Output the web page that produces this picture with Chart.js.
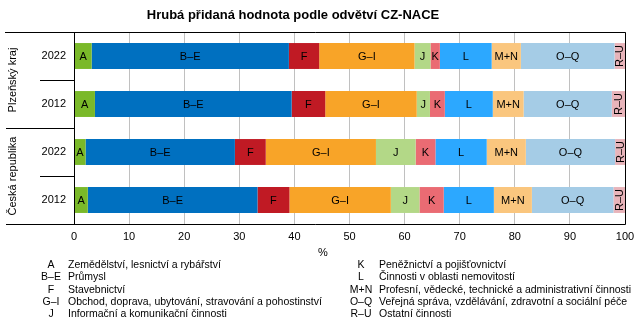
<!DOCTYPE html>
<html lang="cs">
<head>
<meta charset="utf-8">
<script src="https://cdn.jsdelivr.net/npm/chart.js@4"></script>
<style>
  html, body { margin: 0; padding: 0; background: #fff; }
  #wrap { width: 643px; height: 327px; position: relative; }
</style>
</head>
<body>
<div id="wrap"><canvas id="hphChart" width="643" height="327"></canvas></div>
<script>
// ===== Data =====
const radky = ['2022', '2012', '2022', '2012'];
const skupiny = ['Plzeňský kraj', 'Česká republika'];
const kody = ['A', 'B–E', 'F', 'G–I', 'J', 'K', 'L', 'M+N', 'O–Q', 'R–U'];
const nazvy = [
    'Zemědělství, lesnictví a rybářství',
    'Průmysl',
    'Stavebnictví',
    'Obchod, doprava, ubytování, stravování a pohostinství',
    'Informační a komunikační činnosti',
    'Peněžnictví a pojišťovnictví',
    'Činnosti v oblasti nemovitostí',
    'Profesní, vědecké, technické a administrativní činnosti',
    'Veřejná správa, vzdělávání, zdravotní a sociální péče',
    'Ostatní činnosti'
];
const barvy = ['#7ab929', '#0070c0', '#c01a24', '#f8a428', '#b3d887',
               '#ea6b73', '#2ca8ff', '#fac67e', '#a5cce6', '#e8b4ba'];

// podíly odvětví v % (řádky: PK 2022, PK 2012, ČR 2022, ČR 2012)
const podilA   = [3.2, 3.8, 2.1, 2.5];
const podilBE  = [35.8, 35.7, 27.1, 30.8];
const podilF   = [5.5, 6.1, 5.6, 5.8];
const podilGI  = [17.3, 16.6, 20.0, 18.4];
const podilJ   = [2.9, 2.4, 7.2, 5.2];
const podilK   = [1.7, 2.7, 3.6, 4.4];
const podilL   = [9.4, 8.7, 9.3, 9.1];
const podilMN  = [5.3, 5.6, 7.1, 6.9];
const podilOQ  = [17.0, 16.0, 16.2, 14.8];
const podilRU  = [1.9, 2.4, 1.8, 2.1];
const osaX = [0, 10, 20, 30, 40, 50, 60, 70, 80, 90, 100];

const podily = [podilA, podilBE, podilF, podilGI, podilJ, podilK, podilL, podilMN, podilOQ, podilRU];
const FONT = '"Liberation Sans", Arial, sans-serif';

// popisky uvnitř segmentů
const popiskySegmentu = {
    id: 'popiskySegmentu',
    afterDatasetsDraw(chart) {
        const ctx = chart.ctx;
        ctx.save();
        ctx.font = '11px ' + FONT;
        ctx.fillStyle = '#000';
        ctx.textAlign = 'center';
        ctx.textBaseline = 'middle';
        chart.data.datasets.forEach((ds, i) => {
            chart.getDatasetMeta(i).data.forEach(el => {
                const cx = (el.x + el.base) / 2;
                if (ds.label === 'R–U') {
                    ctx.save();
                    ctx.translate(cx + 0.5, el.y);
                    ctx.rotate(-Math.PI / 2);
                    ctx.fillText(ds.label, 0, 0);
                    ctx.restore();
                } else {
                    ctx.fillText(ds.label, cx, el.y + 0.5);
                }
            });
        });
        ctx.restore();
    }
};

// rámeček, oddělovače skupin, nadpis a legenda
const ramecek = {
    id: 'ramecek',
    afterDraw(chart) {
        const ctx = chart.ctx;
        const a = chart.chartArea;
        const y = chart.scales.y;
        ctx.save();
        ctx.strokeStyle = '#000';
        ctx.lineWidth = 1;
        const cara = (x1, y1, x2, y2) => {
            ctx.beginPath(); ctx.moveTo(x1, y1); ctx.lineTo(x2, y2); ctx.stroke();
        };
        const top = Math.round(a.top) + 0.5, bot = Math.round(a.bottom) + 0.5;
        const lev = Math.round(a.left) + 0.5, prav = Math.round(a.right) + 0.5;
        cara(5, top, prav, top);
        cara(prav, top, prav, bot);
        cara(6, bot, prav, bot);
        cara(lev, top, lev, bot);
        // oddělovače let a skupin
        [0.5, 1.5, 2.5].forEach((v, i) => {
            const yy = Math.round(y.getPixelForValue(v)) + 0.5;
            cara(i === 1 ? 6 : 40, yy, lev, yy);
        });

        // názvy skupin svisle
        ctx.font = '11px ' + FONT;
        ctx.fillStyle = '#000';
        ctx.textAlign = 'center';
        ctx.textBaseline = 'middle';
        skupiny.forEach((s, i) => {
            const yy = (y.getPixelForValue(i * 2) + y.getPixelForValue(i * 2 + 1)) / 2;
            ctx.save();
            ctx.translate(13, yy);
            ctx.rotate(-Math.PI / 2);
            ctx.fillText(s, 0, 0);
            ctx.restore();
        });

        // jednotka osy
        ctx.fillText('%', 323, 253);

        // nadpis
        ctx.font = 'bold 13px ' + FONT;
        ctx.fillText('Hrubá přidaná hodnota podle odvětví CZ-NACE', 293, 15);

        // legenda ve dvou sloupcích
        ctx.font = '10.5px ' + FONT;
        kody.forEach((k, i) => {
            const sl = i < 5 ? 0 : 1;
            const r = i % 5;
            const yy = 265 + r * 12.4;
            ctx.textAlign = 'center';
            ctx.fillText(k, sl ? 361 : 51, yy);
            ctx.textAlign = 'left';
            ctx.fillText(nazvy[i], sl ? 379 : 68, yy);
        });
        ctx.restore();
    }
};

new Chart(document.getElementById('hphChart'), {
    type: 'bar',
    data: {
        labels: radky,
        datasets: kody.map((k, i) => ({
            label: k,
            data: podily[i],
            backgroundColor: barvy[i],
            borderWidth: 0,
            barPercentage: 0.54,
            categoryPercentage: 1
        }))
    },
    options: {
        indexAxis: 'y',
        responsive: false,
        animation: false,
        layout: { padding: { top: 32, right: 18, left: 0, bottom: 0 } },
        plugins: {
            legend: { display: false },
            title: { display: false },
            tooltip: { enabled: false }
        },
        scales: {
            x: {
                stacked: true,
                min: 0,
                max: 100,
                afterBuildTicks: s => { s.ticks = osaX.map(v => ({ value: v })); },
                afterFit: s => { s.height = 103; },
                border: { display: false },
                grid: { color: '#c0c0c0', drawTicks: false },
                ticks: { color: '#000', padding: 6, font: { size: 11, family: FONT } }
            },
            y: {
                stacked: true,
                afterFit: s => { s.width = 74; },
                border: { display: false },
                grid: { display: false, drawTicks: false },
                ticks: { color: '#000', padding: 8, font: { size: 11, family: FONT } }
            }
        }
    },
    plugins: [popiskySegmentu, ramecek]
});
</script>
</body>
</html>
